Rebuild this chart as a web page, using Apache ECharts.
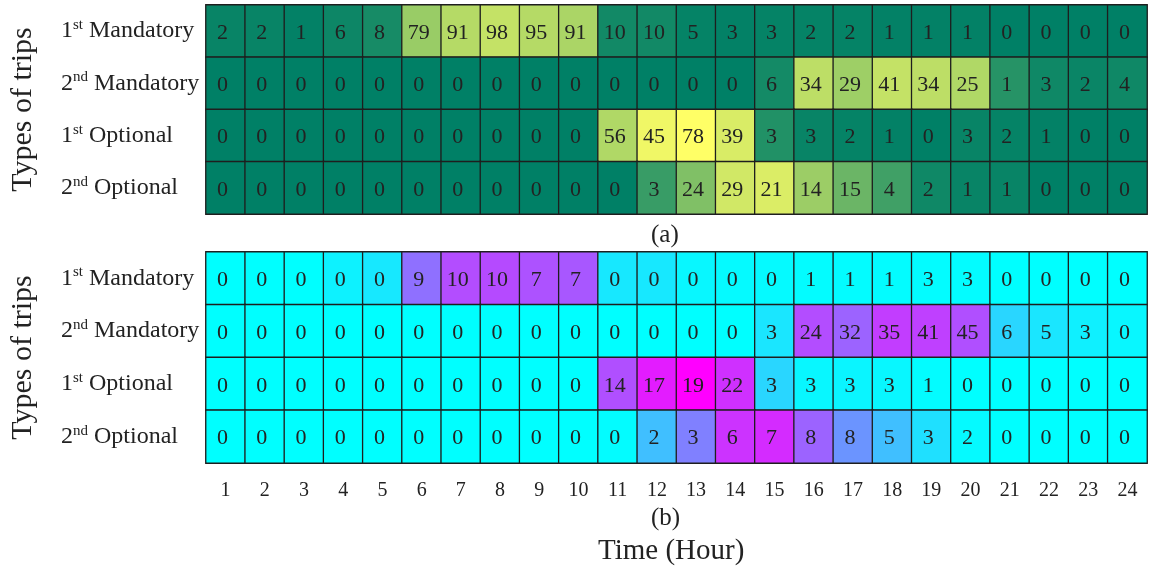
<!DOCTYPE html>
<html>
<head>
<meta charset="utf-8">
<script src="https://cdn.jsdelivr.net/npm/echarts@6/dist/echarts.min.js"></script>
<style>html,body{margin:0;padding:0;background:#fff}#c{width:1150px;height:574px}</style>
</head>
<body>
<div id="c"></div>
<script>
// ---- data ----
const hours = ['1','2','3','4','5','6','7','8','9','10','11','12','13','14','15','16','17','18','19','20','21','22','23','24'];
const tripTypes = ['1st Mandatory','2nd Mandatory','1st Optional','2nd Optional'];

// panel (a): numbers shown in cells
const tripsA_1stMand = [2,2,1,6,8,79,91,98,95,91,10,10,5,3,3,2,2,1,1,1,0,0,0,0];
const tripsA_2ndMand = [0,0,0,0,0,0,0,0,0,0,0,0,0,0,6,34,29,41,34,25,1,3,2,4];
const tripsA_1stOpt  = [0,0,0,0,0,0,0,0,0,0,56,45,78,39,3,3,2,1,0,3,2,1,0,0];
const tripsA_2ndOpt  = [0,0,0,0,0,0,0,0,0,0,0,3,24,29,21,14,15,4,2,1,1,0,0,0];
// panel (a): cell shade (0..1)
const shadeA_1stMand = [0.03,0.03,0.01,0.05,0.09,0.6,0.71,0.77,0.71,0.67,0.07,0.07,0.02,0.01,0.02,0.02,0.02,0.01,0.01,0.01,0,0,0,0];
const shadeA_2ndMand = [0,0,0,0,0,0,0,0,0,0,0,0,0,0,0.08,0.74,0.62,0.77,0.74,0.69,0.15,0.06,0.04,0.06];
const shadeA_1stOpt  = [0,0,0,0,0,0,0,0,0,0,0.69,0.94,1,0.85,0.13,0.03,0.02,0.01,0,0.03,0.02,0.01,0,0];
const shadeA_2ndOpt  = [0,0,0,0,0,0,0,0,0,0,0,0.22,0.5,0.82,0.86,0.61,0.42,0.25,0.06,0.03,0.03,0,0,0];

// panel (b)
const tripsB_1stMand = [0,0,0,0,0,9,10,10,7,7,0,0,0,0,0,1,1,1,3,3,0,0,0,0];
const tripsB_2ndMand = [0,0,0,0,0,0,0,0,0,0,0,0,0,0,3,24,32,35,41,45,6,5,3,0];
const tripsB_1stOpt  = [0,0,0,0,0,0,0,0,0,0,14,17,19,22,3,3,3,3,1,0,0,0,0,0];
const tripsB_2ndOpt  = [0,0,0,0,0,0,0,0,0,0,0,2,3,6,7,8,8,5,3,2,0,0,0,0];
const shadeB_1stMand = [0,0,0,0.05,0.09,0.56,0.7,0.71,0.68,0.66,0.09,0.09,0.03,0.02,0.02,0.01,0.01,0.01,0.01,0.01,0,0,0,0];
const shadeB_2ndMand = [0,0,0,0,0,0,0,0,0,0,0,0,0,0,0.1,0.7,0.61,0.76,0.75,0.69,0.16,0.1,0.06,0.03];
const shadeB_1stOpt  = [0,0,0,0,0,0,0,0,0,0,0.69,0.89,1,0.81,0.16,0.03,0.04,0.03,0.01,0,0,0,0,0];
const shadeB_2ndOpt  = [0,0,0,0,0,0,0,0,0,0,0.01,0.25,0.5,0.8,0.83,0.61,0.42,0.25,0.12,0.02,0,0,0,0];

const panelLabels = ['(a)', '(b)'];
const xTitle = 'Time (Hour)';
const yTitle = 'Types of trips';

// ---- build ----
function build(rows, shades) {
  const out = [];
  rows.forEach((row, r) => row.forEach((v, h) => out.push([h, r, v, shades[r][h]])));
  return out;
}
const dataA = build([tripsA_1stMand, tripsA_2ndMand, tripsA_1stOpt, tripsA_2ndOpt],
                    [shadeA_1stMand, shadeA_2ndMand, shadeA_1stOpt, shadeA_2ndOpt]);
const dataB = build([tripsB_1stMand, tripsB_2ndMand, tripsB_1stOpt, tripsB_2ndOpt],
                    [shadeB_1stMand, shadeB_2ndMand, shadeB_1stOpt, shadeB_2ndOpt]);

const FONT = '"Liberation Serif", "Times New Roman", serif';
const TXT = '#222';

function yLabelFmt(v) {
  const m = v.match(/^(\d)(st|nd|rd|th)\s(.*)$/);
  return m ? '{n|' + m[1] + '}{s|' + m[2] + '}{n| ' + m[3] + '}' : '{n|' + v + '}';
}
const yRich = {
  n: { fontFamily: FONT, fontSize: 24, color: TXT },
  s: { fontFamily: FONT, fontSize: 15, color: TXT, padding: [0, 0, 12, 0] }
};

function yAxisDef(idx) {
  return {
    type: 'category', gridIndex: idx, data: tripTypes, inverse: true,
    axisLine: { show: false }, axisTick: { show: false }, splitLine: { show: false },
    axisLabel: { align: 'left', margin: 145, formatter: yLabelFmt, rich: yRich },
    name: yTitle, nameLocation: 'middle', nameGap: 168, nameRotate: 90,
    nameTextStyle: { fontFamily: FONT, fontSize: 30, color: TXT }
  };
}

function heat(idx, data) {
  return {
    type: 'heatmap', xAxisIndex: idx, yAxisIndex: idx, data: data,
    itemStyle: { borderColor: '#1e1e1e', borderWidth: 1.3 },
    label: { show: true, formatter: p => String(p.data[2]), fontFamily: FONT, fontSize: 22, color: TXT, offset: [-3, 2] },
    emphasis: { disabled: true }
  };
}

const chart = echarts.init(document.getElementById('c'), null, { renderer: 'canvas' });
chart.setOption({
  animation: false,
  backgroundColor: '#fff',
  grid: [
    { left: 204, top: 5, width: 943, height: 209, show: true, borderColor: '#9a9a9a', borderWidth: 1, backgroundColor: 'transparent' },
    { left: 204, top: 252, width: 943, height: 211, show: true, borderColor: '#555', borderWidth: 1, backgroundColor: 'transparent' }
  ],
  xAxis: [
    { type: 'category', gridIndex: 0, data: hours, axisLine: { show: false }, axisTick: { show: false }, axisLabel: { show: false }, splitLine: { show: false } },
    { type: 'category', gridIndex: 1, data: hours, axisLine: { show: false }, axisTick: { show: false }, splitLine: { show: false },
      axisLabel: { margin: 18, fontFamily: FONT, fontSize: 20, color: TXT } }
  ],
  yAxis: [yAxisDef(0), yAxisDef(1)],
  visualMap: [
    { show: false, seriesIndex: 0, dimension: 3, min: 0, max: 1, inRange: { color: ['#008066', '#ffff66'] } },
    { show: false, seriesIndex: 1, dimension: 3, min: 0, max: 1, inRange: { color: ['#00ffff', '#ff00ff'] } }
  ],
  graphic: [
    { type: 'text', left: 651, top: 223, style: { text: panelLabels[0], font: '25px ' + FONT, fill: TXT } },
    { type: 'text', left: 651, top: 506, style: { text: panelLabels[1], font: '25px ' + FONT, fill: TXT } },
    { type: 'text', left: 598, top: 537, style: { text: xTitle, font: '29px ' + FONT, fill: TXT } }
  ],
  series: [heat(0, dataA), heat(1, dataB)]
});
</script>
</body>
</html>
